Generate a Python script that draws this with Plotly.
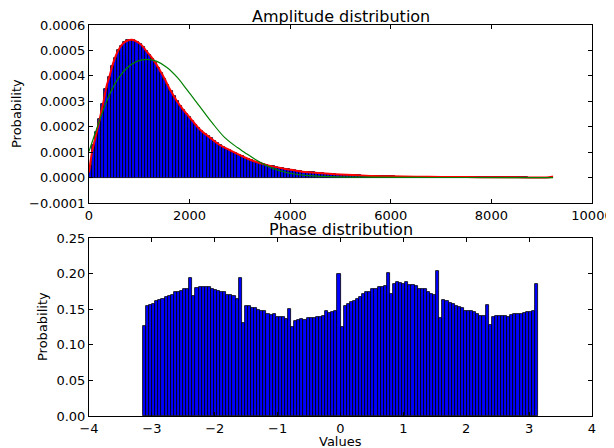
import plotly.graph_objects as go
import numpy as np

# amplitude histogram (normed counts), 150 bins from 0 to ~9225
amp_max = 9225
amp_counts = [
    0.000045, 0.000128, 0.000180, 0.000232, 0.000290, 0.000350, 0.000395, 0.000438, 0.000472, 0.000500,
    0.000518, 0.000532, 0.000542, 0.000542, 0.000541, 0.000535, 0.000526, 0.000512, 0.000498, 0.000482,
    0.000467, 0.000450, 0.000430, 0.000410, 0.000389, 0.000364, 0.000341, 0.000320, 0.000300, 0.000283,
    0.000266, 0.000251, 0.000237, 0.000223, 0.000208, 0.000195, 0.000182, 0.000172, 0.000163, 0.000154,
    0.000144, 0.000135, 0.000128, 0.000120, 0.000113, 0.000107, 0.000101, 0.000095, 0.000089, 0.000083,
    0.000077, 0.000072, 0.000068, 0.000063, 0.000059, 0.000056, 0.000053, 0.000050, 0.000047, 0.000044,
    0.000041, 0.000039, 0.000036, 0.000034, 0.000032, 0.000030, 0.000028, 0.000027, 0.000025, 0.000023,
    0.000022, 0.000021, 0.000020, 0.000019, 0.000018, 0.000017, 0.000016, 0.000015, 0.000014, 0.000013,
    0.000012, 0.000012, 0.000011, 0.000010, 0.000010, 0.0000095, 0.0000088, 0.0000082, 0.0000078, 0.0000074,
    0.0000070, 0.0000066, 0.0000062, 0.0000058, 0.0000055, 0.0000052, 0.0000049, 0.0000046, 0.0000043, 0.0000040,
    0.0000038, 0.0000036, 0.0000034, 0.0000032, 0.0000030, 0.0000028, 0.0000026, 0.0000025, 0.0000023, 0.0000022,
    0.0000020, 0.0000019, 0.0000018, 0.0000017, 0.0000016, 0.0000015, 0.0000014, 0.0000013, 0.0000012, 0.0000012,
    0.0000011, 0.0000010, 0.0000010, 0.0000009, 0.0000009, 0.0000008, 0.0000008, 0.0000007, 0.0000007, 0.0000007,
    0.0000006, 0.0000006, 0.0000006, 0.0000005, 0.0000005, 0.0000005, 0.0000005, 0.0000004, 0.0000004, 0.0000004,
    0.0000004, 0.0000004, 0.0000003, 0.0000003, 0.0000003, 0.0000003, 0.0000003, 0.0000003, 0.0000002, 0.0000030,
]

# fitted curve (red)
fit_x = [0, 60, 120, 180, 240, 290, 350, 410, 480, 580, 680, 780, 850, 950, 1050, 1150, 1282,
         1400, 1500, 1614, 1750, 1880, 2013, 2200, 2412, 2600, 2810, 3000, 3110, 3300, 3508,
         3700, 3907, 4100, 4305, 4500, 4704, 5000, 5500, 6000, 6500, 7000, 7500, 8000, 8500,
         9000, 9150, 9225]
fit_y = [0.00002, 0.0001, 0.000152, 0.0002, 0.000255, 0.0003, 0.00036, 0.0004, 0.00045, 0.0005,
         0.000528, 0.00054, 0.000542, 0.000535, 0.00052, 0.000495, 0.000463, 0.000425, 0.00039,
         0.000345, 0.0003, 0.000265, 0.000234, 0.00019, 0.000156, 0.000128, 0.000107, 0.000088,
         0.000078, 0.000063, 0.000051, 0.000042, 0.000034, 0.000028, 0.000022, 0.000019, 0.000016,
         0.000012, 0.0000075, 0.000005, 0.0000035, 0.0000025, 0.0000018, 0.0000012, 0.0000008,
         0.0000006, 0.000001, 0.000004]

# second curve (green)
alt_x = [0, 150, 350, 550, 750, 950, 1150, 1350, 1550, 1750, 1950, 2200, 2450, 2700, 2950,
         3100, 3300, 3500, 3700, 3900, 4300, 4800, 5500, 6500, 7500, 9225]
alt_y = [0.000103, 0.00019, 0.0003, 0.00038, 0.00043, 0.000457, 0.000465, 0.000457, 0.000433,
         0.000395, 0.000345, 0.00028, 0.000215, 0.000157, 0.000118, 0.000098, 0.000072, 0.00005,
         0.000033, 0.000021, 0.000009, 0.000004, 0.0000015, 0.0000005, 0.0000002, 0.0]

# phase histogram, 128 bins over -pi..pi
phase_counts = [
    0.126, 0.155, 0.156, 0.157, 0.162, 0.163, 0.165, 0.167, 0.168, 0.170,
    0.174, 0.174, 0.176, 0.178, 0.178, 0.194, 0.168, 0.180, 0.1815, 0.1805,
    0.1805, 0.1805, 0.178, 0.177, 0.176, 0.1745, 0.174, 0.170, 0.170, 0.168,
    0.165, 0.194, 0.131, 0.155, 0.155, 0.152, 0.152, 0.149, 0.147, 0.1468,
    0.1435, 0.142, 0.1435, 0.139, 0.139, 0.139, 0.136, 0.1506, 0.1248, 0.134,
    0.135, 0.136, 0.1355, 0.138, 0.137, 0.1375, 0.139, 0.139, 0.140, 0.1468,
    0.145, 0.146, 0.148, 0.1998, 0.1248, 0.1548, 0.157, 0.1595, 0.162, 0.164,
    0.1665, 0.171, 0.1735, 0.1745, 0.178, 0.1785, 0.1815, 0.1815, 0.183, 0.2008,
    0.1712, 0.1857, 0.188, 0.187, 0.185, 0.1876, 0.1843, 0.1839, 0.1825, 0.179,
    0.1787, 0.178, 0.1745, 0.1717, 0.170, 0.203, 0.137, 0.163, 0.161, 0.1585,
    0.1567, 0.154, 0.153, 0.151, 0.1473, 0.148, 0.147, 0.1454, 0.1426, 0.1407,
    0.140, 0.1557, 0.1276, 0.1388, 0.141, 0.1407, 0.140, 0.1407, 0.139, 0.1417,
    0.143, 0.1435, 0.1435, 0.1445, 0.1459, 0.146, 0.1477, 0.1857,
]

amp_ticks = [0, 2000, 4000, 6000, 8000, 10000]
amp_yticks = [-0.0001, 0, 0.0001, 0.0002, 0.0003, 0.0004, 0.0005, 0.0006]
ph_ticks = [-4, -3, -2, -1, 0, 1, 2, 3, 4]
ph_yticks = [0, 0.05, 0.1, 0.15, 0.2, 0.25]

amp_w = amp_max / len(amp_counts)
amp_x = np.arange(len(amp_counts)) * amp_w + amp_w / 2
ph_w = 2 * np.pi / len(phase_counts)
ph_x = -np.pi + np.arange(len(phase_counts)) * ph_w + ph_w / 2

# page body has an 8px margin, so the figure is shifted by 8px
OFF = 8
W, H = 614 - OFF, 448 - OFF


def px(x):
    return (x - OFF) / W


def py(y):
    return 1 - (y - OFF) / H


font = dict(family="DejaVu Sans", size=13, color="black")
title_font = dict(family="DejaVu Sans", size=16, color="black")

fig = go.Figure()

fig.add_trace(go.Bar(x=amp_x, y=amp_counts, width=amp_w,
                     marker=dict(color="#0000ff", line=dict(color="black", width=0.8)),
                     xaxis="x", yaxis="y"))
fig.add_trace(go.Scatter(x=fit_x, y=fit_y, mode="lines", line=dict(color="red", width=2, shape="spline"),
                         xaxis="x", yaxis="y"))
fig.add_trace(go.Scatter(x=alt_x, y=alt_y, mode="lines", line=dict(color="#008000", width=1.2, shape="spline"),
                         xaxis="x", yaxis="y"))
fig.add_trace(go.Bar(x=ph_x, y=phase_counts, width=ph_w,
                     marker=dict(color="#0000ff", line=dict(color="black", width=0.8)),
                     xaxis="x2", yaxis="y2"))

axis_style = dict(showline=True, linecolor="black", linewidth=1, mirror="ticks",
                  ticks="inside", ticklen=4, tickcolor="black", showgrid=False,
                  zeroline=False, tickfont=font, automargin=False)

x0, x1 = px(89), px(592)


def label(text, x, y, f=font, angle=0):
    return dict(text=text, x=x, y=y, xref="paper", yref="paper", xanchor="center",
                yanchor="middle", showarrow=False, textangle=angle, font=f)


fig.update_layout(
    width=W, height=H,
    margin=dict(l=0, r=0, t=0, b=0, autoexpand=False),
    paper_bgcolor="white", plot_bgcolor="white",
    showlegend=False, bargap=0, barmode="overlay",
    font=font,
    xaxis=dict(domain=[x0, x1], range=[0, 10000], tickvals=amp_ticks,
               ticktext=[str(t) for t in amp_ticks], anchor="y", **axis_style),
    yaxis=dict(domain=[py(203), py(25)], range=[-0.0001, 0.0006],
               tickvals=amp_yticks, tickformat=".4f", anchor="x", **axis_style),
    xaxis2=dict(domain=[x0, x1], range=[-4, 4], tickvals=ph_ticks,
                anchor="y2", **axis_style),
    yaxis2=dict(domain=[py(416), py(238)], range=[0, 0.25],
                tickvals=ph_yticks, tickformat=".2f", anchor="x2", **axis_style),
    annotations=[
        label("Amplitude distribution", (x0 + x1) / 2, py(16), title_font),
        label("Phase distribution", (x0 + x1) / 2, py(229), title_font),
        label("Probability", px(16), py(114), angle=-90),
        label("Probability", px(42), py(327), angle=-90),
        label("Values", (x0 + x1) / 2, py(441)),
    ],
)

fig.write_html("out.html")
